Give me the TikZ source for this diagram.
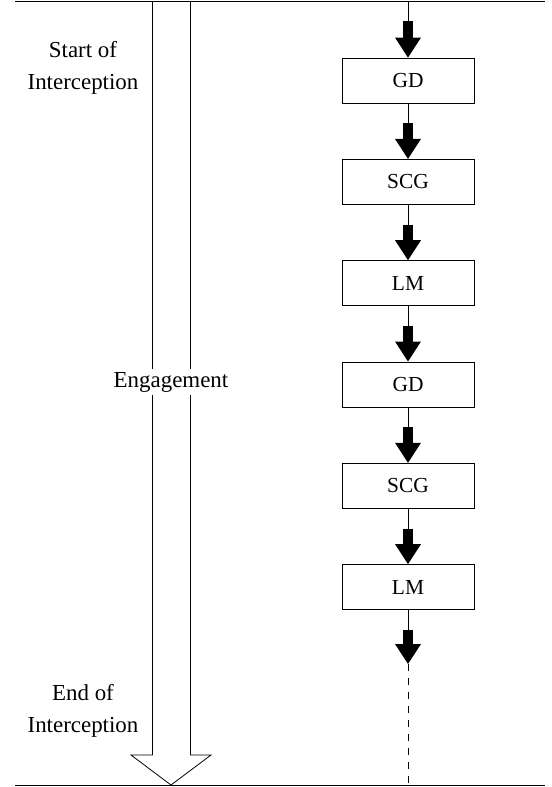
\documentclass[tikz,border=0pt]{standalone}
\usepackage{fontspec}
\setmainfont{Liberation Serif}
\usetikzlibrary{arrows.meta}
\tikzset{
  stage/.style={draw, line width=0.8bp, minimum width=132bp, minimum height=45bp, inner sep=0pt, font=\fontsize{21.5}{25}\selectfont},
  lbl/.style={align=center, inner sep=0pt, font=\fontsize{23}{32}\selectfont},
  thinln/.style={line width=0.8bp},
  fat/.style={line width=10bp, -{Triangle[width=26bp,length=20bp,line width=0pt]}},
  rule/.style={line width=1bp},
}
\begin{document}
\begin{tikzpicture}[x=1bp,y=-1bp]
\useasboundingbox (0,0) rectangle (552,787);
% rules
\coordinate (tl) at (15,2);
\coordinate (tr) at (545,2);
\coordinate (bl) at (15,785);
\coordinate (br) at (545,785);
\draw[rule] (tl) -- (tr);
\draw[rule] (bl) -- (br);
% big hollow arrow
\draw[thinln, line join=miter] (152.5,2) -- (152.5,755) -- (131,755) -- (171,785) -- (211,755) -- (190.5,755) -- (190.5,2);
% labels
\node[lbl] (start) at (83,68) {Start of\\Interception};
\node[lbl] (end) at (83,711) {End of\\Interception};
\node[lbl, fill=white, inner sep=3bp] (eng) at (171,382) {Engagement};
% stages
\node[stage] (b1) at (408,80.5) {GD};
\node[stage] (b2) at (408,181.8) {SCG};
\node[stage] (b3) at (408,283.1) {LM};
\node[stage] (b4) at (408,384.4) {GD};
\node[stage] (b5) at (408,485.7) {SCG};
\node[stage] (b6) at (408,587) {LM};
\coordinate (top) at (408,2);
\coordinate (bot) at (408,785);
% connectors
\draw[thinln] (top) -- ++(0,19) coordinate (m0);
\draw[fat] (m0) -- (b1.north);
\foreach \a/\b in {b1/b2,b2/b3,b3/b4,b4/b5,b5/b6}{
  \draw[thinln] (\a.south) -- ++(0,20) coordinate (m);
  \draw[fat] (m) -- (\b.north);
}
\draw[thinln] (b6.south) -- ++(0,20) coordinate (m6);
\coordinate (tip) at (408,664);
\draw[fat] (m6) -- (tip);
\draw[thinln, dash pattern=on 7bp off 7bp] (tip) -- (bot);
\end{tikzpicture}
\end{document}
